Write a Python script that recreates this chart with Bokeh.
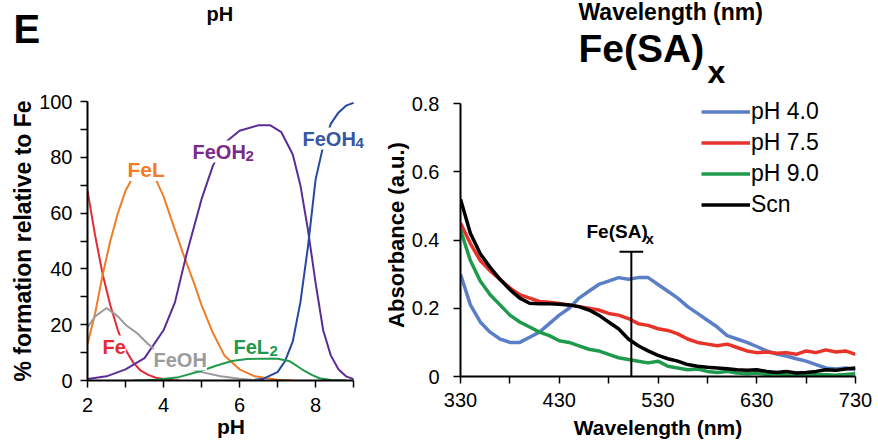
from bokeh.plotting import figure
from bokeh.models import Label, FixedTicker, Legend, LegendItem, Range1d
from bokeh.layouts import row, column
from bokeh.embed import file_html
from bokeh.resources import INLINE

FONT = "Liberation Sans"

# ---------------- Left panel: speciation vs pH ----------------
fe_ph = [2.0, 2.2, 2.4, 2.6, 2.8, 3.0, 3.2, 3.4, 3.6, 3.8, 4.0, 4.2, 4.4]
fe_pct = [68, 52, 38, 27, 18, 11, 6.5, 3.5, 2, 1, 0.5, 0.2, 0]

fel_ph = [2.0, 2.2, 2.4, 2.6, 2.8, 3.0, 3.2, 3.5, 3.8, 4.0, 4.2, 4.5, 4.8, 5.0, 5.3, 5.6, 6.0, 6.4, 7.0, 7.4]
fel_pct = [13, 24, 38, 50, 60, 68, 73, 75, 72, 66, 58, 46, 35, 27, 17, 9, 4, 1.5, 0.3, 0]

feoh2_ph = [2.0, 2.5, 3.0, 3.5, 4.0, 4.3, 4.6, 5.0, 5.3, 5.6, 6.0, 6.5, 6.8, 7.1, 7.4, 7.6, 7.8, 8.0, 8.2, 8.4, 8.6, 8.8, 9.0]
feoh2_pct = [0.5, 1.5, 4, 8, 18, 28, 45, 65, 77, 85, 89.5, 91.5, 91.5, 89, 81, 70, 54, 35, 18, 9, 4, 1.5, 0.5]

feoh4_ph = [6.2, 6.6, 7.0, 7.2, 7.4, 7.6, 7.8, 8.0, 8.2, 8.4, 8.6, 8.8, 9.0]
feoh4_pct = [0, 0.5, 3, 7, 14, 28, 48, 72, 84, 92, 96, 98.5, 99.5]

feoh_ph = [2.0, 2.2, 2.5, 2.8, 3.0, 3.3, 3.6, 4.0, 4.5, 5.0, 5.5, 6.0, 6.5]
feoh_pct = [19, 23, 26, 23, 20, 17, 13, 8.5, 5, 3, 1.5, 0.6, 0]

fel2_ph = [3.2, 3.8, 4.4, 5.0, 5.4, 5.8, 6.2, 6.6, 7.0, 7.3, 7.5, 7.7, 7.9, 8.1, 8.4, 8.8]
fel2_pct = [0, 0.3, 1.2, 3.5, 5.4, 7, 7.7, 7.9, 7.8, 7, 5.3, 3.5, 2, 0.8, 0.2, 0]

ph_ticks = [2, 4, 6, 8]
ph_minor = [3, 5, 7, 9]
pct_ticks = [0, 20, 40, 60, 80, 100]
pct_minor = [10, 30, 50, 70, 90]

# ---------------- Right panel: absorbance spectra ----------------
wavelength = [330, 340, 350, 360, 370, 380, 390, 400, 410, 420, 430, 440, 450, 460, 470, 480,
              490, 500, 510, 520, 530, 540, 550, 560, 570, 580, 590, 600, 610, 620, 630, 640,
              650, 660, 670, 680, 690, 700, 710, 720, 730]
abs_ph40 = [0.30, 0.21, 0.16, 0.13, 0.11, 0.10, 0.10, 0.115, 0.13, 0.155, 0.18, 0.20, 0.23, 0.25,
            0.27, 0.28, 0.29, 0.285, 0.29, 0.29, 0.27, 0.25, 0.23, 0.205, 0.185, 0.165, 0.145,
            0.12, 0.11, 0.10, 0.088, 0.075, 0.066, 0.06, 0.052, 0.045, 0.035, 0.025, 0.022,
            0.025, 0.02]
abs_ph75 = [0.45, 0.39, 0.34, 0.31, 0.285, 0.26, 0.24, 0.23, 0.22, 0.218, 0.214, 0.21, 0.205,
            0.20, 0.195, 0.185, 0.18, 0.17, 0.155, 0.15, 0.14, 0.135, 0.125, 0.11, 0.10, 0.095,
            0.09, 0.095, 0.085, 0.075, 0.07, 0.072, 0.068, 0.07, 0.065, 0.075, 0.07, 0.078,
            0.072, 0.075, 0.065]
abs_ph90 = [0.43, 0.34, 0.28, 0.24, 0.21, 0.18, 0.16, 0.145, 0.13, 0.12, 0.105, 0.10, 0.09, 0.08,
            0.075, 0.065, 0.055, 0.05, 0.045, 0.04, 0.045, 0.03, 0.025, 0.02, 0.022, 0.015, 0.012,
            0.015, 0.01, 0.008, 0.01, 0.006, 0.008, 0.005, 0.006, 0.004, 0.006, 0.005, 0.004,
            0.006, 0.008]
abs_scn = [0.52, 0.42, 0.36, 0.32, 0.285, 0.255, 0.23, 0.215, 0.213, 0.213, 0.212, 0.21, 0.205,
           0.195, 0.18, 0.16, 0.14, 0.11, 0.09, 0.075, 0.062, 0.052, 0.045, 0.035, 0.03, 0.027,
           0.025, 0.023, 0.02, 0.018, 0.02, 0.015, 0.012, 0.015, 0.01, 0.012, 0.015, 0.02,
           0.018, 0.022, 0.025]
series_names = ["pH 4.0", "pH 7.5", "pH 9.0", "Scn"]

wl_ticks = [330, 430, 530, 630, 730]
wl_minor = [380, 480, 580, 680]
abs_ticks = [0, 0.2, 0.4, 0.6, 0.8]

marker_wl = 503
marker_top = 0.366
marker_half = 12

TOTAL_H = 443
HEAD_H = 89


def style_axes(p):
    for ax in (p.xaxis[0], p.yaxis[0]):
        ax.axis_line_width = 2
        ax.axis_line_color = "black"
        ax.major_tick_line_width = 1.5
        ax.minor_tick_line_width = 1.5
        ax.major_tick_line_color = "black"
        ax.minor_tick_line_color = "black"
        ax.major_tick_in = 0
        ax.minor_tick_in = 0
        ax.major_tick_out = 7
        ax.minor_tick_out = 7
        ax.major_label_text_font = FONT
        ax.major_label_text_font_size = "20px"
        ax.major_label_text_color = "black"
        ax.axis_label_text_font = FONT
        ax.axis_label_text_font_style = "bold"
        ax.axis_label_text_color = "black"
    p.xgrid.visible = False
    p.ygrid.visible = False
    p.outline_line_color = None


def add_label(p, text, x, y, size, color, bg=True):
    lab = Label(x=x, y=y, x_units="screen", y_units="screen", text=text,
                text_font=FONT, text_font_size=size, text_font_style="bold",
                text_color=color, text_baseline="alphabetic", text_align="left",
                background_fill_color="white" if bg else None)
    p.add_layout(lab)
    return lab


# ---------------- Header strip (texts above both panels) ----------------
head = figure(width=878, height=HEAD_H, x_range=Range1d(0, 878), y_range=Range1d(0, HEAD_H),
              output_backend="svg", toolbar_location=None,
              min_border_left=0, min_border_right=0, min_border_top=0, min_border_bottom=0)
head.axis.visible = False
head.xgrid.visible = False
head.ygrid.visible = False
head.outline_line_color = None
add_label(head, "E", 13, 61, "40px", "black", bg=False)
add_label(head, "pH", 206, 76, "20px", "black", bg=False)
add_label(head, "Wavelength (nm)", 578, 78, "23px", "black", bg=False)
add_label(head, "Fe(SA)", 578, 41, "39px", "black", bg=False)
add_label(head, "x", 707, 18, "32px", "black", bg=False)

ROW_H = TOTAL_H - HEAD_H

# ---------------- Left figure ----------------
p1 = figure(width=380, height=ROW_H, x_range=Range1d(2, 9.55), y_range=Range1d(0, 100),
            output_backend="svg", toolbar_location=None,
            min_border_left=87, min_border_right=6, min_border_top=101 - HEAD_H,
            min_border_bottom=TOTAL_H - 380)
style_axes(p1)
p1.xaxis[0].ticker = FixedTicker(ticks=ph_ticks, minor_ticks=ph_minor)
p1.yaxis[0].ticker = FixedTicker(ticks=pct_ticks, minor_ticks=pct_minor)
p1.xaxis[0].bounds = (2, 9)
p1.xaxis[0].axis_label = "pH"
p1.yaxis[0].axis_label = "% formation relative to Fe"
p1.xaxis[0].axis_label_text_font_size = "21px"
p1.yaxis[0].axis_label_text_font_size = "23px"
p1.xaxis[0].major_label_standoff = 10
p1.yaxis[0].major_label_standoff = 8
p1.xaxis[0].axis_label_standoff = 0
p1.yaxis[0].axis_label_standoff = 0

C_FE = "#e62a33"
C_FEL = "#f07d25"
C_FEOH2 = "#5a2d96"
C_FEOH4 = "#26489f"
C_FEOH = "#9b9b9b"
C_FEL2 = "#1f9a4c"

p1.line(fe_ph, fe_pct, line_color=C_FE, line_width=2)
p1.line(fel_ph, fel_pct, line_color=C_FEL, line_width=2)
p1.line(feoh2_ph, feoh2_pct, line_color=C_FEOH2, line_width=2)
p1.line(feoh4_ph, feoh4_pct, line_color=C_FEOH4, line_width=2)
p1.line(feoh_ph, feoh_pct, line_color=C_FEOH, line_width=2)
p1.line(fel2_ph, fel2_pct, line_color=C_FEL2, line_width=2)

add_label(p1, "FeL", 40, 211, "21px", C_FEL)
add_label(p1, "FeOH", 105, 229, "20px", "#7a2a8c")
add_label(p1, "2", 158, 225, "15px", "#7a2a8c")
add_label(p1, "FeOH", 215, 242, "20px", "#3557a5")
add_label(p1, "4", 268, 238, "15px", "#3557a5")
add_label(p1, "Fe", 15, 34, "20px", C_FE)
add_label(p1, "FeOH", 66, 21, "20px", C_FEOH)
add_label(p1, "FeL", 146, 34, "20px", C_FEL2)
add_label(p1, "2", 182, 30, "15px", C_FEL2)

# ---------------- Right figure ----------------
# the frame reaches a little above 0.8 so the legend is not clipped; the axis stops at 0.8
p2 = figure(width=498, height=ROW_H, x_range=Range1d(330, 730), y_range=Range1d(0, 0.83),
            output_backend="svg", toolbar_location=None,
            min_border_left=77, min_border_right=23, min_border_top=93 - HEAD_H,
            min_border_bottom=TOTAL_H - 376)
style_axes(p2)
p2.xaxis[0].ticker = FixedTicker(ticks=wl_ticks, minor_ticks=wl_minor)
p2.yaxis[0].ticker = FixedTicker(ticks=abs_ticks)
p2.yaxis[0].bounds = (0, 0.8)
p2.xaxis[0].axis_label = "Wavelength (nm)"
p2.yaxis[0].axis_label = "Absorbance (a.u.)"
p2.xaxis[0].axis_label_text_font_size = "21px"
p2.yaxis[0].axis_label_text_font_size = "22px"
p2.xaxis[0].major_label_standoff = 9
p2.yaxis[0].major_label_standoff = 14
p2.xaxis[0].axis_label_standoff = 6
p2.yaxis[0].axis_label_standoff = 0

spec_colors = ["#5b7fc7", "#e8332b", "#1f9a4c", "black"]
renderers = []
for ys, col in zip([abs_ph40, abs_ph75, abs_ph90, abs_scn], spec_colors):
    r = p2.line(wavelength, ys, line_color=col, line_width=3.5)
    renderers.append(r)

# marker for the Fe(SA)x band
p2.segment(x0=[marker_wl, marker_wl - marker_half], y0=[0, marker_top],
           x1=[marker_wl, marker_wl + marker_half], y1=[marker_top, marker_top],
           line_color="black", line_width=2)
add_label(p2, "Fe(SA)", 126, 145, "19px", "black", bg=False)
add_label(p2, "x", 185, 138, "15px", "black", bg=False)

legend = Legend(items=[LegendItem(label=n, renderers=[r]) for n, r in zip(series_names, renderers)],
                location=(241, 157), orientation="vertical",
                glyph_width=49, glyph_height=29, label_height=29, spacing=2,
                label_standoff=1, padding=0, margin=0,
                label_text_font=FONT, label_text_font_size="23px", label_text_color="black",
                border_line_alpha=0, background_fill_alpha=0)
p2.add_layout(legend)

layout = column(head, row(column(p1), column(p2)))
open("out.html", "w").write(file_html(layout, INLINE))
